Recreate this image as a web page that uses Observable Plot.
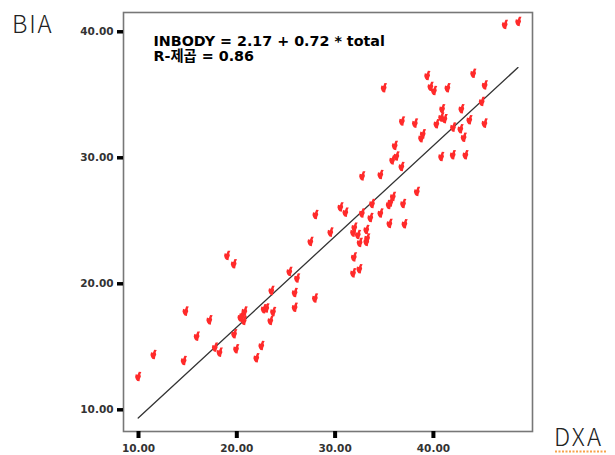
<!DOCTYPE html>
<html>
<head>
<meta charset="utf-8">
<script src="https://cdn.jsdelivr.net/npm/d3@7"></script>
<script src="https://cdn.jsdelivr.net/npm/@observablehq/plot@0.6"></script>
<style>
  html, body { margin: 0; padding: 0; background: #fff; }
  #chart { position: relative; width: 615px; height: 455px; }
</style>
</head>
<body>
<div id="chart"></div>
<script>
// DXA (x) values
const dxa = [9.97, 11.53, 14.79, 14.61, 15.93, 17.22, 19.02, 19.70, 17.78, 18.26,
  19.74, 19.94, 20.38, 20.79, 20.72, 20.55, 22.0, 22.51, 22.75, 23.02,
  23.43, 23.70, 23.53, 25.36, 26.14, 25.90, 25.90, 27.96, 27.50, 28.01,
  29.53, 30.55, 31.06, 32.76, 34.62, 31.97, 31.84, 32.33, 32.51, 33.19,
  33.27, 32.74, 33.60, 33.77, 34.62, 35.54, 35.64, 35.47, 35.82, 36.08,
  36.25, 36.76, 31.92, 32.48, 31.84, 33.19, 34.96, 36.81, 38.13, 38.93,
  38.76, 39.38, 39.71, 40.07, 41.44, 44.06, 45.23, 44.93, 40.90, 42.86,
  40.80, 41.14, 40.32, 43.67, 45.21, 42.01, 42.76, 43.09, 40.80, 41.98,
  43.27, 38.33, 35.89, 36.93, 37.07, 47.27, 48.64];
// BIA (y) values
const bia = [12.64, 14.39, 17.83, 13.91, 15.84, 17.14, 22.25, 21.59, 14.97, 14.57,
  16.03, 14.84, 17.35, 17.83, 17.09, 17.48, 14.13, 15.10, 18.02, 18.08,
  17.09, 17.80, 19.47, 20.98, 20.46, 19.31, 18.14, 18.87, 23.36, 25.50,
  24.10, 26.10, 25.68, 28.56, 28.67, 24.49, 24.10, 23.91, 23.28, 24.31,
  23.63, 25.62, 25.26, 26.37, 25.62, 24.79, 26.49, 26.29, 29.83, 30.98,
  30.14, 29.31, 22.13, 21.19, 20.87, 23.36, 35.56, 32.92, 32.75, 31.90,
  31.59, 36.53, 35.66, 35.34, 35.56, 36.71, 35.78, 34.47, 33.89, 33.89,
  33.22, 33.10, 32.70, 33.02, 32.75, 32.43, 32.30, 31.63, 30.10, 30.24,
  30.24, 27.33, 26.93, 26.37, 24.76, 40.58, 40.82];

// Fitted line endpoints (INBODY = 2.17 + 0.72 * total)
const fitX = [9.97, 48.6];
const fitY = [9.35, 37.16];

const xTicks = [10, 20, 30, 40];
const yTicks = [10, 20, 30, 40];
const equationLines = ["INBODY = 2.17 + 0.72 * total", "R-제곱 = 0.86"];
const yTitle = "BIA";
const xTitle = "DXA";

const points = dxa.map((d, i) => ({dxa: d, bia: bia[i]}));
const fit = fitX.map((d, i) => ({x: d, y: fitY[i]}));

// SPSS-like small flag marker
const flag = {
  draw(ctx) {
    ctx.moveTo(0.6, -4.8);
    ctx.lineTo(3.2, -4.6);
    ctx.lineTo(2.1, -2.2);
    ctx.lineTo(2.7, 0);
    ctx.lineTo(1.7, 2.3);
    ctx.lineTo(1.3, 4.8);
    ctx.lineTo(-1.0, 4.4);
    ctx.lineTo(-2.3, 2.7);
    ctx.lineTo(-3.1, 0.4);
    ctx.lineTo(-2.5, -2.3);
    ctx.lineTo(-0.6, -1.7);
    ctx.closePath();
  }
};

const fmt = d3.format(".2f");

const plot = Plot.plot({
  width: 615,
  height: 455,
  marginLeft: 123,
  marginRight: 83,
  marginTop: 12,
  marginBottom: 24,
  style: {fontFamily: "'DejaVu Sans', sans-serif", fontWeight: "bold", fontSize: "10.5px", color: "#333", background: "#fff"},
  x: {domain: [8.474, 50.08]},
  y: {domain: [8.278, 41.53]},
  marks: [
    Plot.frame({stroke: "#777", strokeWidth: 1.6}),
    Plot.axisX({ticks: xTicks, tickFormat: fmt, tickSize: 7, tickPadding: 6, strokeWidth: 4, stroke: "#000", fill: "#333", label: null}),
    Plot.axisY({ticks: yTicks, tickFormat: fmt, tickSize: 6, tickPadding: 4, strokeWidth: 3.5, stroke: "#000", fill: "#333", label: null}),
    Plot.line(fit, {x: "x", y: "y", stroke: "#333", strokeWidth: 1.3}),
    Plot.dot(points, {x: "dxa", y: "bia", symbol: flag, fill: "#ff2a2a", stroke: "none", r: 4}),
    Plot.text([equationLines.join("\n")], {
      frameAnchor: "top-left", dx: 30, dy: 23, lineAnchor: "top", textAnchor: "start",
      lineHeight: 1.03, fontSize: 14.3, fontWeight: "bold", fill: "#000",
      fontFamily: "'DejaVu Sans', 'Noto Sans CJK KR', sans-serif"
    })
  ]
});

document.getElementById("chart").appendChild(plot);

const svg = d3.select(plot);
svg.append("text")
  .attr("x", 12).attr("y", 33)
  .attr("text-anchor", "start")
  .attr("font-family", "'Noto Sans CJK KR', 'Noto Sans', sans-serif")
  .attr("font-weight", 300)
  .attr("font-size", 24)
  .attr("letter-spacing", 1.8)
  .attr("fill", "#222")
  .text(yTitle);
svg.append("text")
  .attr("x", 554).attr("y", 446)
  .attr("text-anchor", "start")
  .attr("font-family", "'Noto Sans CJK KR', 'Noto Sans', sans-serif")
  .attr("font-weight", 300)
  .attr("font-size", 24)
  .attr("letter-spacing", 2)
  .attr("fill", "#222")
  .text(xTitle);
svg.append("line")
  .attr("x1", 555).attr("x2", 606).attr("y1", 451.5).attr("y2", 451.5)
  .attr("stroke", "#f7a24a").attr("stroke-width", 2).attr("stroke-dasharray", "2,1.5");
</script>
</body>
</html>
